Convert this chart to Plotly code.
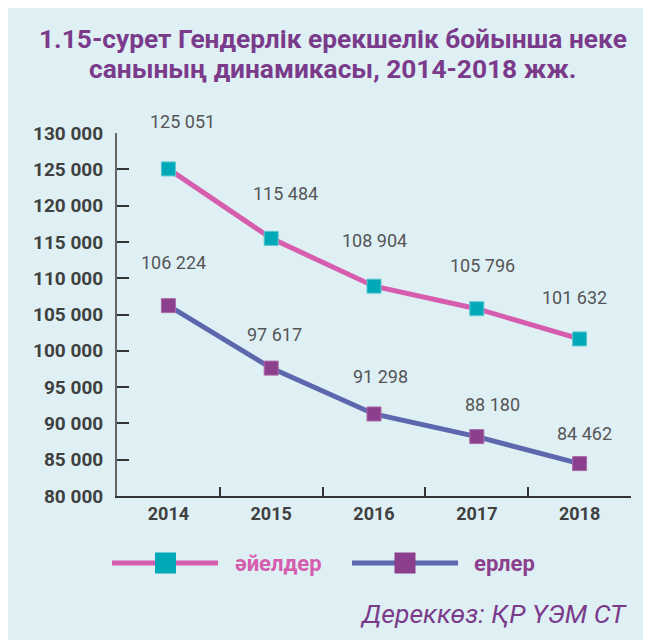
import plotly.graph_objects as go

years = ["2014", "2015", "2016", "2017", "2018"]
women = [125051, 115484, 108904, 105796, 101632]
men = [106224, 97617, 91298, 88180, 84462]
y_ticks = [80000, 85000, 90000, 95000, 100000, 105000, 110000, 115000, 120000, 125000, 130000]
y_ticktext = ["80 000", "85 000", "90 000", "95 000", "100 000", "105 000", "110 000",
              "115 000", "120 000", "125 000", "130 000"]
series_names = ["әйелдер", "ерлер"]
title_lines = ["1.15-сурет Гендерлік ерекшелік бойынша неке", "санының динамикасы, 2014-2018 жж."]
source_text = "Дереккөз: ҚР ҮЭМ СТ"

# label offsets (pixels) - styling only
women_dx = [14, 14, 0, 6, -5]
women_dy = [47, 45, 46, 43, 41]
men_dx = [5, 3, 6, 16, 5]
men_dy = [43, 34, 37, 32, 30]

BG = "#dff0f5"
PINK = "#d65cae"
TEAL = "#00a9b8"
BLUE = "#5d67ad"
PURPLE = "#8b3f8c"
TITLE = "#7b3b8b"

OFF = 8  # page margin offset
W, H = 651, 640
L, T = 117 - OFF, 133 - OFF
R = W - (631 - OFF)
B = H - (496 - OFF)
PW, PH = W - L - R, H - T - B

def px(x):
    return (x - OFF - L) / PW

def py(y):
    return (H - B - (y - OFF)) / PH

fmt = lambda v: f"{v:,}".replace(",", " ")

fig = go.Figure()
fig.add_trace(go.Scatter(x=years, y=women, mode="lines+markers", name=series_names[0],
                         line=dict(color=PINK, width=5),
                         marker=dict(symbol="square", size=14, color=TEAL,
                                     line=dict(color="#5cc7d0", width=1))))
fig.add_trace(go.Scatter(x=years, y=men, mode="lines+markers", name=series_names[1],
                         line=dict(color=BLUE, width=5),
                         marker=dict(symbol="square", size=14, color=PURPLE,
                                     line=dict(color="#a86aa8", width=1))))

ann_font = dict(family="Roboto", size=18, color="#555555")
for i, yr in enumerate(years):
    fig.add_annotation(x=i, y=women[i], text=fmt(women[i]), showarrow=False,
                       xshift=women_dx[i], yshift=women_dy[i], font=ann_font)
    fig.add_annotation(x=i, y=men[i], text=fmt(men[i]), showarrow=False,
                       xshift=men_dx[i], yshift=men_dy[i], font=ann_font)

# manual legend
leg_y = py(563)
legend_items = [
    (series_names[0], PINK, TEAL, 112, 218, 165.5, 233, PINK),
    (series_names[1], BLUE, PURPLE, 352, 458, 405, 472, PURPLE),
]
for name, lc, mc, x0, x1, xm, xt, tc in legend_items:
    fig.add_shape(type="line", xref="paper", yref="paper", x0=px(x0), x1=px(x1), y0=leg_y, y1=leg_y,
                  line=dict(color=lc, width=5))
    fig.add_shape(type="rect", xref="paper", yref="paper", xsizemode="pixel", ysizemode="pixel",
                  xanchor=px(xm), yanchor=leg_y, x0=-10.5, x1=10.5, y0=-10.5, y1=10.5,
                  fillcolor=mc, line=dict(width=0))
    fig.add_annotation(xref="paper", yref="paper", x=px(xt), y=leg_y, text=f"<b>{name}</b>",
                       showarrow=False, xanchor="left", yanchor="middle",
                       font=dict(family="Roboto", size=22, color=tc))

fig.add_annotation(xref="paper", yref="paper", x=px(629), y=py(613), text=source_text,
                   showarrow=False, xanchor="right", yanchor="middle",
                   font=dict(family="Roboto", size=26.5, color=TITLE, style="italic"))

# title as two lines (tight line spacing)
for line, yc in zip(title_lines, [38.5, 68.5]):
    fig.add_annotation(xref="paper", yref="paper", x=px(333), y=py(yc), text=f"<b>{line}</b>",
                       showarrow=False, xanchor="center", yanchor="middle",
                       font=dict(family="Roboto", size=26.3, color=TITLE))

fig.update_layout(
    width=W, height=H,
    margin=dict(l=L, r=R, t=T, b=B, autoexpand=False),
    paper_bgcolor=BG, plot_bgcolor=BG,
    showlegend=False,
    xaxis=dict(type="category", showgrid=False, showline=True, linecolor="#333333", linewidth=2,
               ticks="inside", ticklen=9, tickcolor="#333333", tickwidth=1.5, tickson="boundaries",
               tickfont=dict(family="Roboto", size=18, color="#404040", weight="bold"),
               range=[-0.5, 4.5], zeroline=False),
    yaxis=dict(range=[80000, 130000], tickvals=y_ticks, ticktext=y_ticktext, showgrid=False,
               showline=True, linecolor="#666666", linewidth=2,
               ticks="inside", ticklen=12, tickcolor="#333333", tickwidth=1.5,
               ticklabelstandoff=8,
               tickfont=dict(family="Roboto", size=19, color="#404040", weight="bold"),
               zeroline=False),
)

fig.write_html("out.html")
